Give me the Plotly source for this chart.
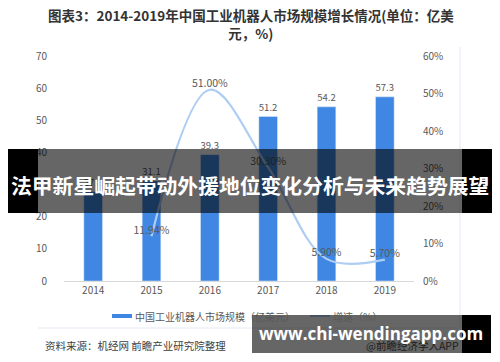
import plotly.graph_objects as go

years = ["2014", "2015", "2016", "2017", "2018", "2019"]
market_size = [27.8, 31.1, 39.3, 51.2, 54.2, 57.3]
growth = [None, 11.94, 51.00, 30.30, 5.90, 5.70]

title_text = "图表3：2014-2019年中国工业机器人市场规模增长情况(单位：亿美<br>元，%)"
legend_bar = "中国工业机器人市场规模（亿美元）"
legend_line = "增速（%）"
source_text = "资料来源：机经网 前瞻产业研究院整理"
app_text = "@前瞻经济学人APP"
banner_text = "法甲新星崛起带动外援地位变化分析与未来趋势展望"
url_text = "www.chi-wendingapp.com"

W, H = 500, 362
L, R, T, B = 64, 414, 56, 281
FONT = "Noto Sans CJK SC"
GREY = "#595959"
BAR = "#3f87e3"
LINE = "#aecdf3"


def px(x):
    return (x - L) / (R - L)


def py(y):
    return (B - y) / (B - T)


fig = go.Figure()
fig.add_trace(go.Bar(
    x=years, y=market_size, marker_color=BAR, width=0.32,
    text=[f"{v:.1f}" for v in market_size], textposition="outside",
    textfont=dict(color=GREY, size=10.5, family=FONT), cliponaxis=False,
    name=legend_bar, showlegend=False,
))
fig.add_trace(go.Scatter(
    x=years, y=growth, yaxis="y2", mode="lines+text",
    line=dict(color=LINE, width=2.2, shape="spline"),
    text=[("" if g is None else f"{g:.2f}%") for g in growth],
    textposition="top center", textfont=dict(color=GREY, size=10.5, family=FONT),
    cliponaxis=False, name=legend_line, showlegend=False,
))

shapes = []
annotations = []

# frame lines
shapes.append(dict(type="line", xref="paper", yref="paper", x0=px(460), x1=px(460), y0=py(47), y1=py(328),
                   line=dict(color="#e3eaf2", width=1)))
shapes.append(dict(type="line", xref="paper", yref="paper", x0=px(38), x1=px(460), y0=py(328), y1=py(328),
                   line=dict(color="#e3eaf2", width=1)))

# manual legend
shapes.append(dict(type="rect", xref="paper", yref="paper", x0=px(112), x1=px(132), y0=py(318), y1=py(314),
                   fillcolor=BAR, line=dict(width=0)))
shapes.append(dict(type="line", xref="paper", yref="paper", x0=px(310), x1=px(330), y0=py(316), y1=py(316),
                   line=dict(color=LINE, width=2)))
annotations.append(dict(text=legend_bar, xref="paper", yref="paper", x=px(133), y=py(316), xanchor="left",
                        yanchor="middle", showarrow=False, font=dict(size=10, color=GREY, family=FONT)))
annotations.append(dict(text=legend_line, xref="paper", yref="paper", x=px(331), y=py(316), xanchor="left",
                        yanchor="middle", showarrow=False, font=dict(size=10, color=GREY, family=FONT)))

# title
annotations.append(dict(text="<b>" + title_text + "</b>", xref="paper", yref="paper", x=px(251), y=py(24),
                        xanchor="center", yanchor="middle", showarrow=False, align="center",
                        font=dict(size=13.5, color="#333333", family=FONT)))

# footer
annotations.append(dict(text=source_text, xref="paper", yref="paper", x=px(43), y=py(345), xanchor="left",
                        yanchor="middle", showarrow=False, font=dict(size=10.5, color="#404040", family=FONT)))
# this text sits under the translucent url box, so it shows darkened
annotations.append(dict(text=app_text, xref="paper", yref="paper", x=px(461), y=py(345), xanchor="right",
                        yanchor="middle", showarrow=False, font=dict(size=10.5, color="#1c1c1c", family=FONT)))

# overlay banner
shapes.append(dict(type="rect", xref="paper", yref="paper", layer="above", x0=px(8), x1=px(38), y0=py(213), y1=py(149),
                   fillcolor="black", line=dict(width=0)))
shapes.append(dict(type="rect", xref="paper", yref="paper", layer="above", x0=px(462), x1=px(492), y0=py(213), y1=py(149),
                   fillcolor="black", line=dict(width=0)))
shapes.append(dict(type="rect", xref="paper", yref="paper", layer="above", x0=px(38), x1=px(462), y0=py(213), y1=py(149),
                   fillcolor="rgba(0,0,0,0.6)", line=dict(width=0)))
annotations.append(dict(text="<b>" + banner_text + "</b>", xref="paper", yref="paper", x=px(250), y=py(185),
                        xanchor="center", yanchor="middle", showarrow=False,
                        font=dict(size=20.8, color="white", family=FONT)))

# url box
shapes.append(dict(type="rect", xref="paper", yref="paper", layer="above", x0=px(462), x1=px(491), y0=py(353), y1=py(315),
                   fillcolor="black", line=dict(width=0)))
shapes.append(dict(type="rect", xref="paper", yref="paper", layer="above", x0=px(252), x1=px(462), y0=py(353), y1=py(315),
                   fillcolor="rgba(0,0,0,0.6)", line=dict(width=0)))
annotations.append(dict(text="<b>" + url_text + "</b>", xref="paper", yref="paper", x=px(371), y=py(333),
                        xanchor="center", yanchor="middle", showarrow=False,
                        font=dict(size=17, color="white", family="Open Sans")))

fig.update_layout(
    width=W, height=H, margin=dict(l=L, r=W - R, t=T, b=H - B),
    paper_bgcolor="white", plot_bgcolor="white", bargap=0.68,
    font=dict(family=FONT, color=GREY, size=10),
    xaxis=dict(type="category", showgrid=False, showline=True, linecolor="#d9d9d9", linewidth=1,
               ticks="", tickfont=dict(size=10, color=GREY), fixedrange=True),
    yaxis=dict(range=[0, 70], dtick=10, showgrid=False, zeroline=False, showline=False,
               tickfont=dict(size=10, color=GREY), ticklabelstandoff=16),
    yaxis2=dict(range=[0, 60], dtick=10, overlaying="y", side="right", showgrid=False, zeroline=False,
                ticksuffix="%", tickfont=dict(size=10, color=GREY), ticklabelstandoff=8),
    shapes=shapes, annotations=annotations, showlegend=False,
)

fig.write_html("out.html", config={"displayModeBar": False},
               post_script="document.body.style.margin='0';document.body.style.overflow='hidden';")
